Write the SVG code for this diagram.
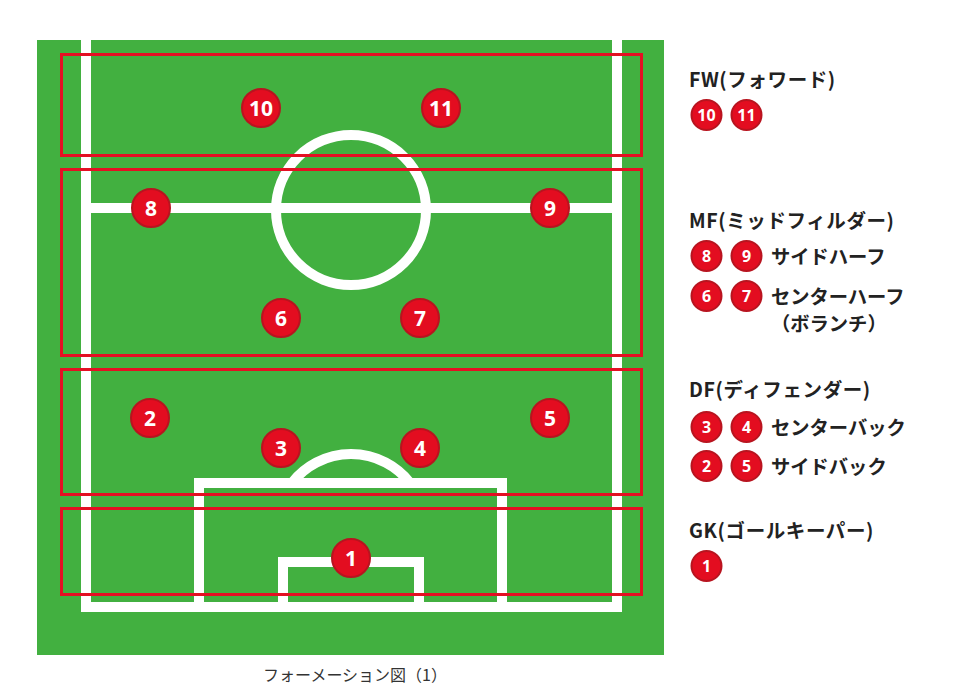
<svg xmlns="http://www.w3.org/2000/svg" width="980" height="700" viewBox="0 0 980 700">
<style>
.line{fill:none;stroke:#fff;stroke-width:10}
.zone{fill:none;stroke:#e50f23;stroke-width:3}
.p{fill:#e30d20;stroke:#b8141f;stroke-width:2}
.pn{font-family:"Noto Sans","Liberation Sans",sans-serif;font-weight:bold;font-size:21px;fill:#fff;text-anchor:middle}
.ln{font-family:"Noto Sans","Liberation Sans",sans-serif;font-weight:bold;font-size:16px;fill:#fff;text-anchor:middle}
.h{font-family:"Noto Sans CJK JP","Noto Sans",sans-serif;font-weight:bold;font-size:19.5px;letter-spacing:0.6px;fill:#222}
.t{font-family:"Noto Sans CJK JP","Noto Sans",sans-serif;font-weight:bold;font-size:19.3px;fill:#222}
.cap{font-family:"Noto Sans CJK JP","Noto Sans",sans-serif;font-size:16px;fill:#333;text-anchor:middle}
</style>
<rect width="980" height="700" fill="#fff"/>
<g id="field">
<rect x="37" y="40" width="627" height="615" fill="#42b040"/>
<path class="line" d="M86 40 V607 H617 V40 M86 208 H617"/>
<circle class="line" cx="351" cy="210" r="75"/>
<path class="line" d="M199 607 V483 H502 V607 M283 607 V562 H419 V607"/>
<path class="line" d="M291.8 483 A75 75 0 0 1 410.2 483"/>
</g>
<g id="zones">
<rect class="zone" x="61.5" y="54.5" width="580" height="101"/>
<rect class="zone" x="61.5" y="169.5" width="580" height="186"/>
<rect class="zone" x="61.5" y="369.5" width="580" height="125"/>
<rect class="zone" x="61.5" y="508.5" width="580" height="86"/>
</g>
<g id="players">
<g id="p10"><circle class="p" cx="261" cy="108" r="19"/><text class="pn" x="261" y="115.5">10</text></g>
<g id="p11"><circle class="p" cx="441" cy="108" r="19"/><text class="pn" x="441" y="115.5">11</text></g>
<g id="p8"><circle class="p" cx="151" cy="208" r="19"/><text class="pn" x="151" y="215.5">8</text></g>
<g id="p9"><circle class="p" cx="550" cy="208" r="19"/><text class="pn" x="550" y="215.5">9</text></g>
<g id="p6"><circle class="p" cx="281" cy="318" r="19"/><text class="pn" x="281" y="325.5">6</text></g>
<g id="p7"><circle class="p" cx="420" cy="318" r="19"/><text class="pn" x="420" y="325.5">7</text></g>
<g id="p2"><circle class="p" cx="150" cy="418" r="19"/><text class="pn" x="150" y="425.5">2</text></g>
<g id="p5"><circle class="p" cx="550" cy="418" r="19"/><text class="pn" x="550" y="425.5">5</text></g>
<g id="p3"><circle class="p" cx="281" cy="448" r="19"/><text class="pn" x="281" y="455.5">3</text></g>
<g id="p4"><circle class="p" cx="420" cy="448" r="19"/><text class="pn" x="420" y="455.5">4</text></g>
<g id="p1"><circle class="p" cx="351" cy="558" r="19"/><text class="pn" x="351" y="565.5">1</text></g>
</g>
<g id="legend">
<text class="h" x="689" y="87">FW(フォワード)</text>
<circle class="p" cx="706.5" cy="115" r="15"/><text class="ln" x="706.5" y="120.5">10</text>
<circle class="p" cx="746.5" cy="115" r="15"/><text class="ln" x="746.5" y="120.5">11</text>
<text class="h" x="689" y="228">MF(ミッドフィルダー)</text>
<circle class="p" cx="706.5" cy="256" r="15"/><text class="ln" x="706.5" y="261.5">8</text>
<circle class="p" cx="746.5" cy="256" r="15"/><text class="ln" x="746.5" y="261.5">9</text>
<text class="t" x="771" y="264">サイドハーフ</text>
<circle class="p" cx="706.5" cy="296" r="15"/><text class="ln" x="706.5" y="301.5">6</text>
<circle class="p" cx="746.5" cy="296" r="15"/><text class="ln" x="746.5" y="301.5">7</text>
<text class="t" x="771" y="304">センターハーフ</text>
<text class="t" x="771" y="331">（ボランチ）</text>
<text class="h" x="689" y="397">DF(ディフェンダー)</text>
<circle class="p" cx="706.5" cy="427" r="15"/><text class="ln" x="706.5" y="432.5">3</text>
<circle class="p" cx="746.5" cy="427" r="15"/><text class="ln" x="746.5" y="432.5">4</text>
<text class="t" x="771" y="435">センターバック</text>
<circle class="p" cx="706.5" cy="466" r="15"/><text class="ln" x="706.5" y="471.5">2</text>
<circle class="p" cx="746.5" cy="466" r="15"/><text class="ln" x="746.5" y="471.5">5</text>
<text class="t" x="771" y="474">サイドバック</text>
<text class="h" x="689" y="538">GK(ゴールキーパー)</text>
<circle class="p" cx="706.5" cy="566" r="15"/><text class="ln" x="706.5" y="571.5">1</text>
</g>
<text class="cap" x="355" y="681">フォーメーション図（1）</text>
</svg>
